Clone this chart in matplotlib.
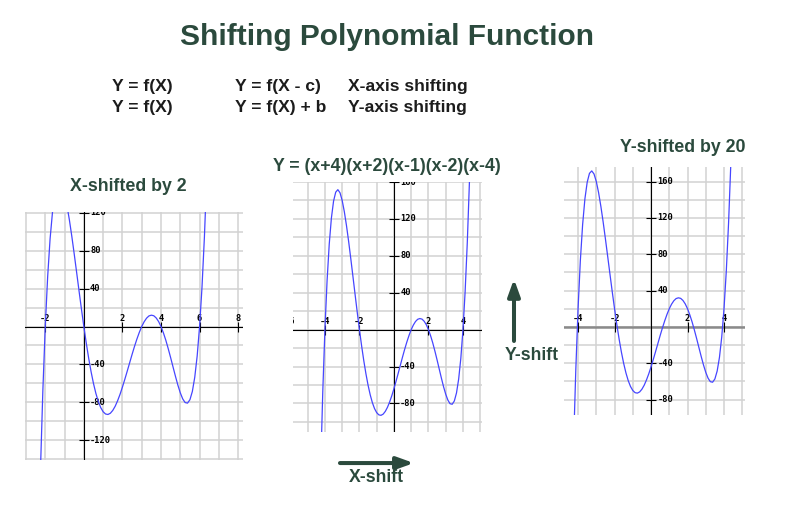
import numpy
import matplotlib
matplotlib.use('Agg')
from matplotlib import pyplot
from matplotlib.transforms import offset_copy

# -----------------------------------------------------------------------------
# samples of Y = (x+4)(x+2)(x-1)(x-2)(x-4)
x_base = [-4.5, -4.375, -4.25, -4.125, -4.0, -3.875, -3.75, -3.625, -3.5,
          -3.375, -3.25, -3.125, -3.0, -2.875, -2.75, -2.625, -2.5, -2.375,
          -2.25, -2.125, -2.0, -1.875, -1.75, -1.625, -1.5, -1.375, -1.25,
          -1.125, -1.0, -0.875, -0.75, -0.625, -0.5, -0.375, -0.25, -0.125,
          0.0, 0.125, 0.25, 0.375, 0.5, 0.625, 0.75, 0.875, 1.0, 1.125, 1.25,
          1.375, 1.5, 1.625, 1.75, 1.875, 2.0, 2.125, 2.25, 2.375, 2.5, 2.625,
          2.75, 2.875, 3.0, 3.125, 3.25, 3.375, 3.5, 3.625, 3.75, 3.875, 4.0,
          4.125, 4.25, 4.375, 4.5]
y_base = [-379.8, -255.6, -152.3, -67.8, 0.0, 52.9, 92.6, 120.9, 139.2,
          149.0, 151.7, 148.3, 140.0, 127.8, 112.7, 95.5, 76.8, 57.4,
          37.8, 18.5, 0.0, -17.4, -33.4, -47.7, -60.2, -70.7, -79.2,
          -85.6, -90.0, -92.4, -92.9, -91.6, -88.6, -84.2, -78.4, -71.7,
          -64.0, -55.7, -47.1, -38.3, -29.5, -21.1, -13.3, -6.2, 0.0, 5.0, 8.8,
          11.2, 12.0, 11.4, 9.1, 5.3, 0.0, -6.7, -14.5, -23.4, -32.9, -42.8,
          -52.6, -61.9, -70.0, -76.4, -80.3, -80.9, -77.3, -68.6, -53.6, -31.2, 0.0,
          41.3, 94.3, 160.5, 241.7]

x_shift = 2
y_shift = 20

left_xlabels = [-2, 2, 4, 6, 8]
left_ylabels = [120, 80, 40, -40, -80, -120]
mid_xlabels = [-6, -4, -2, 2, 4]
mid_ylabels = [160, 120, 80, 40, -40, -80]
right_xlabels = [-4, -2, 2, 4]
right_ylabels = [160, 120, 80, 40, -40, -80]

panel_titles = ['X-shifted by 2', 'Y = (x+4)(x+2)(x-1)(x-2)(x-4)',
                'Y-shifted by 20']

green = '#2b4a3d'
ink = '#1c1c1c'
sans = 'Liberation Sans'
mono = 'DejaVu Sans Mono'

# -----------------------------------------------------------------------------
def graph(fig, ax, x, y, xlim, ylim, xlabels, ylabels, axis_color='black', axis_lw=0.8):
    """ grid paper style plot with axes through the origin """
    ax.set_xlim(xlim)
    ax.set_ylim(ylim)
    ax.set_xticks(numpy.arange(numpy.ceil(xlim[0]), xlim[1] + 0.01, 1))
    ax.set_yticks(numpy.arange(numpy.ceil(ylim[0] / 20) * 20, ylim[1] + 0.01, 20))
    ax.grid(color='#d2d2d2', linewidth=1.1)
    ax.set_axisbelow(True)
    ax.tick_params(length=0, labelbottom=False, labelleft=False)
    for s in ax.spines.values():
        s.set_visible(False)

    ax.axhline(0, color=axis_color, linewidth=axis_lw, zorder=2)
    ax.axvline(0, color='black', linewidth=0.8, zorder=2)
    ax.plot(xlabels, [0] * len(xlabels), '|', color='black', ms=7, mew=0.8, zorder=2)
    ax.plot([0] * len(ylabels), ylabels, '_', color='black', ms=7, mew=0.8, zorder=2)

    above = offset_copy(ax.transData, fig=fig, x=0, y=2.5, units='points')
    right = offset_copy(ax.transData, fig=fig, x=4.5, y=0, units='points')
    for v in xlabels:
        ax.text(v, 0, str(v), transform=above, ha='center', va='bottom',
                fontsize=6.3, family=mono, weight='bold', clip_on=True)
    for v in ylabels:
        ax.text(0, v, str(v), transform=right, ha='left', va='center',
                fontsize=6.3, family=mono, weight='bold', clip_on=True)

    ax.plot(x, y, '-', color='#4646ff', linewidth=0.9, zorder=3)

# -----------------------------------------------------------------------------
def arrow(fig, start, end):
    """ thick dark green arrow in figure coordinates """
    fig.add_artist(matplotlib.patches.FancyArrowPatch(
        start, end, transform=fig.transFigure,
        arrowstyle='-|>,head_length=1.0,head_width=0.36', mutation_scale=10,
        shrinkA=0, shrinkB=0, linewidth=2.9, color=green))

# -----------------------------------------------------------------------------
fig = pyplot.figure(figsize=(7.99, 5.25), dpi=100, facecolor='w')

xb = numpy.array(x_base)
yb = numpy.array(y_base)

ax1 = fig.add_axes([0.0313, 0.1238, 0.2728, 0.4724])
graph(fig, ax1, xb + x_shift, yb, (-3.05, 8.25), (-141, 121), left_xlabels, left_ylabels)

ax2 = fig.add_axes([0.3667, 0.1771, 0.2365, 0.4762])
graph(fig, ax2, xb, yb, (-5.85, 5.1), (-111, 160), mid_xlabels, mid_ylabels)

ax3 = fig.add_axes([0.7059, 0.2095, 0.2265, 0.4724])
graph(fig, ax3, xb, yb + y_shift, (-4.77, 5.15), (-97, 176), right_xlabels, right_ylabels,
      axis_color='#8a8a8a', axis_lw=1.8)

# titles and notes
fig.text(0.4844, 0.9295, 'Shifting Polynomial Function', ha='center', va='center',
         fontsize=21.5, family=sans, weight='bold', color=green)

rows = [('Y = f(X)', 'Y = f(X - c)', 'X-axis shifting'),
        ('Y = f(X)', 'Y = f(X) + b', 'Y-axis shifting')]
for yy, row in zip([0.836, 0.796], rows):
    for xx, s in zip([0.140, 0.294, 0.4355], row):
        fig.text(xx, yy, s, ha='left', va='center', fontsize=12.6,
                 family=sans, weight='bold', color=ink)

for (xx, yy), s in zip([(0.160, 0.644), (0.4844, 0.682), (0.855, 0.72)], panel_titles):
    fig.text(xx, yy, s, ha='center', va='center', fontsize=12.8,
             family=sans, weight='bold', color=green)

# shift arrows
arrow(fig, (0.4255, 0.118), (0.518, 0.118))
fig.text(0.4706, 0.0914, 'X-shift', ha='center', va='center', fontsize=12.7,
         family=sans, weight='bold', color=green)

arrow(fig, (0.6433, 0.3505), (0.6433, 0.4686))
fig.text(0.666, 0.322, 'Y-shift', ha='center', va='center', fontsize=12.7,
         family=sans, weight='bold', color=green)

fig.savefig('out.png', dpi=100)
